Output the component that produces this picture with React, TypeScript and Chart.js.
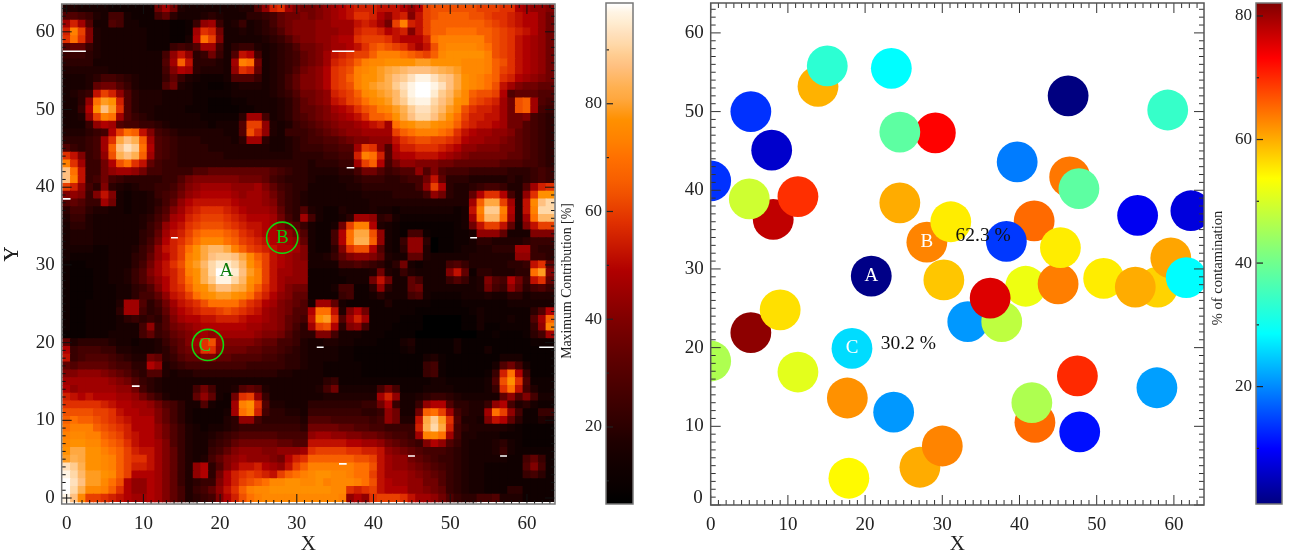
import React, { useEffect, useRef } from "react";
import { Chart, registerables } from "chart.js";

Chart.register(...registerables);

const FONT = '"Liberation Serif"';

// Heat map cells, one character per cell (index into heatLevels), top row (Y=63) first.
const heatRows = [
  "44333322 2222ada4 33333334 48cghdba abcdefgg gfffecei jjjjjjii ihhedccb",
  "88764377 32227953 33454333 55679aab abcdefhh gecfgbfi jkkkkjji hhgfeeca",
  "dgd83387 33222211 26cd6346 34579abb bccdddfg fdaimgfi kkkkkkkj ihgfeeca",
  "gmib4333 33322211 2dhga334 34568abb bcccddgh hgefgbfi kkllllkk jihgfeca",
  "hlhb4333 33322211 3elib333 334568ab bccdeehi iihfeeeg lmmmmmmk jihfedca",
  "89964333 33322267 68dd7356 6434568a abcddefh jkjihfdf jmnnnnml jihfedca",
  "66654333 333337cf c56a638f e7345679 abdfghii kmmmlkji knooooom jihfedca",
  "55553333 333338dk f55543dm la345679 abdghikm nnoooopp oooonnnm kjhfedca",
  "44444433 333337be d54443ch g934568a bcehijmn opqrsttt srqpnnnm kihfedca",
  "33345776 54333696 43222388 8634579b bcehikmo oprtuwyy wutqonml khgedcba",
  "33349aa8 643338a4 32211234 4434579b bcehijmo pqruwyzz ywtqonml jfdbaa99",
  "3456figc 85444333 32222233 3334568a abcghikn opqsvyzz xuspnkjj ie899988",
  "335clpog 85444333 32211122 33334579 abcfgijl nopsuxyy vtronjih gdajkd87",
  "336eotph 85443333 22211112 23334579 9abdefhj kmnpruww uspnjhgg fdajkd76",
  "334cimld 86543333 33222225 dd734578 9abcdefh kkloqtvv tqoliggf fdaab765",
  "3336ced8 77665433 33323338 iic43467 89abccde fgdlnopp onmkhgff edaa8765",
  "444567ei lkfb7654 44444338 jgc43666 789abccd dddiklmm mlkhfedd ccb98765",
  "55567dhq trkd8765 55444435 dd533456 77889abb cccfhijj iihgeddc cba98765",
  "86567dkt wule8765 55544444 44433456 667788di hc8egghh hgfeccbb baa98765",
  "hfb67cjr trkd8765 55555444 44444455 556677gm lg8deeff fedcbaaa aa998765",
  "mhd66aej lhf97665 55555555 55555555 455566di ke7accbb baa99999 98887765",
  "tlf66acd dca77666 68899999 99987655 4444557a a86788c8 b8777666 66555676",
  "tmf67a76 55555668 abbbbbba aa976555 43334456 6655677a f9555444 44545676",
  "igc75b54 34556679 bcddddcc cdb97655 33333445 5555557c ie544567 76448dgh",
  "bcb6bfb3 2334678a cdeeeedc ddca8654 33333334 44455557 ca5449eh he74choo",
  "89866da3 2334579c efffffed ddcb8654 33333333 44444444 44444dkq qid4fntv",
  "57754433 233468bd fghhhgfe dddc9658 43224333 43323333 33323fmu ume4fmvv",
  "46643333 334579de ghiiihgf eeeda75d 732235dd c5632222 22223dls sld4dlss",
  "35543333 33468cef hijjjihg ffedb986 3223aimm e4321111 11123afi if93bfii",
  "34443333 33569dfg iklllkjh gfeedca8 3227elqq jc321772 111223cc c9333bbb",
  "34443333 3357aegh jlnnnlki hgfeedc9 3227elrr kc326cc5 01122355 44445666",
  "33332233 3468cfgi loqssqmk ihgfeedb 3225bhjj e8325cc4 01123344 555dd655",
  "32222233 3569cegi moqtuutq nkifedcb 33469bcc b9433994 33333444 444cc665",
  "21122233 357adfhj npsvxxvs olifedcc 33337787 6535a323 33786444 44556fh9",
  "21112233 468bdfgi morvzzxt pmifddcc 22223333 4a436433 33bf9255 44455lpb",
  "21112233 468acegi loruyyvs omifdccc 22222333 afa33973 3368634b 87ea6fh9",
  "21112223 3568begh knoqttrq nkhfdbaa 22237722 5c5339a3 3333334a 76c95786",
  "21112223 35779cfg ilnoppon ligecb99 22226722 35333783 22223334 33553444",
  "21122224 dd857adf ghjllllj hgedba98 3dd93222 22422222 11112222 22333333",
  "21122225 dd7569ce fghhijih gfdcba88 ellf4bea 22222211 11111232 2222258e",
  "21122223 565658bd eeffgggf eedcb987 foph8dgd 22221110 00001132 223228dk",
  "21122223 337c68ab cdeeeeee ddccb975 dije5bc7 22211110 00001131 122226cm",
  "11122233 3379679a bcdcdddd dcbba865 5bb73332 22111100 00000011 2111257d",
  "94555543 32334689 bdhjdbbb ba997764 33443322 21113411 11131111 11111222",
  "e6777664 43334579 achhcaaa 99887654 33332211 11112311 11131113 11111111",
  "f6788876 544a9568 99bb9988 88776554 33332211 11111113 42111111 13331111",
  "98999987 755ec456 77777777 66666554 33222221 11111116 72111111 38a73111",
  "bbcccba9 86588434 45555555 55554433 33222221 11111116 72111112 6gle6111",
  "ddddddcb a8654333 33333333 33333333 33562222 22222222 33222223 8joh8222",
  "ecdddddc ca754333 37a73348 98433333 347a3333 37a72223 33322223 6hlf7422",
  "gfefeeed dca86433 39c932ah ic633333 33444444 4dgc3345 66543333 39c8b733",
  "hhhhhgfe eddca875 338322dm oh844333 55555556 6ae6336c ee855446 ce745322",
  "jjjjiihf eeddb975 322223dl ng755443 66666665 56ca33ak lid7544d lic72266",
  "klkkjihg feeeb975 3222245c c7555554 88877777 67ca44fq uph8443b fe952243",
  "lmmmkjih geeeca86 43233456 66666665 aaaa9988 776666gr vqg75444 44321111",
  "mnnmmkji gfeeca86 43345678 88887777 cddccbba a98776dm nld74433 32221111",
  "noonnlkj hfeedb86 4335679a aaaa9988 fffffeed dca9876b ec864333 45321111",
  "oqqoomlk igffdb96 433679bc ccbbcccd hiiiihhg gfcba987 77654333 46322222",
  "prqoonmk ihhfdb96 43479bcd cccbaegh kkkkkkjj ifdcca98 76654333 33227962",
  "wuroonmk iggfdb96 4ce58bdf fgedcfik mmmmmmll jfdccba9 87654332 22228b72",
  "yvspponk ieeedb96 4ce5aegh ihgfiklm noonnmll ifdddcba 98654332 22226752",
  "zwtppnlj eccedb96 4566begi jklnnoon nomnnnml jfeddcca a8654332 22222222",
  "zvrnnmkh eccedb97 4679cfhk mnnooooo ooonnhgh ifeeeccb a9654332 22552222",
  "ytniihgf eddedb97 4567begj lmnnnnnn nnnnmcec hiiihfdd ca865577 84442222",
];
const heatCodes = "0123456789abcdefghijklmnopqrstuvwxyz";
const heatLevels = [6, 9, 12, 15, 17.5, 20, 23, 26, 29, 33, 36.5, 40, 43, 46, 49, 52, 55, 58, 60.5, 63, 66, 70, 73, 75, 77, 79, 81, 83, 85, 87, 89, 91, 93, 95, 97, 98.5];
const heatColors = ["#000000", "#0a0000", "#100000", "#180000", "#200000", "#2c0000", "#380000", "#440000", "#500000", "#600000", "#700000", "#800000", "#900000", "#a00000", "#b00000", "#c01000", "#d02000", "#e03000", "#e84000", "#f05000", "#f86000", "#ff7000", "#ff8000", "#ff8800", "#ff9000", "#ff9c20", "#ffa840", "#ffb050", "#ffb868", "#ffc080", "#ffcc90", "#ffd8a8", "#ffe0bc", "#ffecd0", "#fff4e4", "#ffffff"];

// Short white marks on the heat map: x from, x to, y
const whiteMarks = [
  [-0.5, 2.5, 57.5], [34.6, 37.5, 57.5], [36.5, 37.5, 42.5], [-0.5, 0.5, 38.5],
  [13.6, 14.5, 33.5], [52.6, 53.5, 33.5], [32.6, 33.5, 19.4], [61.6, 63.5, 19.4],
  [8.5, 9.5, 14.4], [44.5, 45.4, 5.4], [56.5, 57.4, 5.4], [35.5, 36.5, 4.4],
  [5.6, 10.4, -0.6], [17, 36.5, -0.6], [40, 44.4, -0.6], [53.5, 63.5, -0.6],
];
const ringPoints = [{ x: 28.1, y: 33.5 }, { x: 18.4, y: 19.7 }];
const heatLetters = [
  { x: 20.8, y: 29.2, text: "A", color: "#0a7a0a" },
  { x: 28.1, y: 33.5, text: "B", color: "#10c810" },
  { x: 18.0, y: 19.6, text: "C", color: "#20e020" },
];

// Contamination scatter, drawn back to front: x, y, % of contamination
const spotX = [13.9, 15.1, 23.4, 5.2, 7.9, 0, 8.1, 5.0, 11.3, 29.1, 24.5, 46.3, 59.2, 39.7, 46.5, 47.7, 24.5, 28.0, 31.1, 41.9, 38.3, 40.8, 45.0, 45.3, 20.8, 55.3, 62.2, 50.9, 57.9, 55.0, 59.6, 61.6, 30.2, 33.3, 37.7, 36.2, 5.2, 9.0, 18.3, 0, 11.3, 17.7, 23.7, 47.5, 57.8, 42.0, 41.6, 47.8, 27.1, 30.0, 17.9];
const spotY = [53.2, 55.8, 55.5, 50.0, 45.1, 41.2, 36.3, 38.9, 39.2, 47.3, 47.4, 52.0, 50.2, 43.6, 41.7, 40.2, 38.4, 33.4, 36.0, 36.1, 33.5, 27.8, 28.1, 32.7, 29.1, 36.8, 37.4, 28.8, 27.7, 27.7, 31.4, 28.9, 28.6, 23.3, 23.3, 26.3, 21.9, 24.8, 19.9, 18.3, 16.9, 13.6, 11.8, 16.4, 14.9, 10.5, 13.0, 9.3, 4.8, 7.5, 3.4];
const spotValue = [59.5, 33, 28.5, 13.5, 6.3, 13.5, 77.5, 49, 69.5, 73, 38, 1, 34, 19, 64, 38, 60, 63, 55, 65, 14, 52, 63.5, 55, 1.5, 9, 7.5, 55, 57, 60, 60.5, 28.5, 58, 21, 47.5, 75.5, 81, 56, 26, 46, 51, 62, 21, 70, 21.5, 65, 46, 11, 60, 63, 54];
const spotLabels = [
  { x: 20.8, y: 29.1, text: "A", color: "#ffffff", size: 19 },
  { x: 28.0, y: 33.4, text: "B", color: "#ffffff", size: 19 },
  { x: 18.3, y: 19.9, text: "C", color: "#ffffff", size: 19 },
  { x: 35.3, y: 34.2, text: "62.3 %", color: "#111111", size: 19.5 },
  { x: 25.6, y: 20.5, text: "30.2 %", color: "#111111", size: 19.5 },
];
const jetStops = [[0, 0, 0, 128], [0.11, 0, 0, 255], [0.34, 0, 255, 255], [0.5, 127, 255, 127], [0.65, 255, 255, 0], [0.89, 255, 0, 0], [1, 128, 0, 0]];
const heatRange = [5.7, 98.7];
const jetRange = [1, 82.1];

const jet = (v: number) => {
  const t = Math.min(1, Math.max(0, (v - 1) / 81));
  for (let i = 1; i < jetStops.length; i++) {
    const a = jetStops[i - 1], b = jetStops[i];
    if (t <= b[0]) {
      const f = (t - a[0]) / (b[0] - a[0]);
      return `rgb(${[1, 2, 3].map((k) => Math.round(a[k] + (b[k] - a[k]) * f)).join(",")})`;
    }
  }
  return "rgb(128,0,0)";
};

const tickFont = { family: FONT, size: 19 };
const barFont = { family: FONT, size: 17 };

const zeroPad = (s: any) => { s.paddingTop = 0; s.paddingBottom = 0; s.paddingLeft = 0; s.paddingRight = 0; };

const frame = (o: { color: string; tick: string; major: number; minor: number; zeroLabel?: boolean; lineWidth: number }) => ({
  id: "frame",
  afterDraw(chart: any) {
    const { ctx, chartArea: a, scales } = chart;
    ctx.save();
    ctx.strokeStyle = o.tick;
    ctx.lineWidth = 1;
    const lines = (s: any, vertical: boolean) => {
      for (let v = Math.ceil(s.min); v <= s.max; v++) {
        const p = s.getPixelForValue(v);
        const len = v % 10 === 0 ? o.major : o.minor;
        ctx.beginPath();
        if (vertical) {
          ctx.moveTo(p, a.bottom); ctx.lineTo(p, a.bottom - len);
          ctx.moveTo(p, a.top); ctx.lineTo(p, a.top + len);
        } else {
          ctx.moveTo(a.left, p); ctx.lineTo(a.left + len, p);
          ctx.moveTo(a.right, p); ctx.lineTo(a.right - len, p);
        }
        ctx.stroke();
      }
    };
    lines(scales.x, true);
    lines(scales.y, false);
    ctx.strokeStyle = o.color;
    ctx.lineWidth = o.lineWidth;
    ctx.strokeRect(a.left, a.top, a.right - a.left, a.bottom - a.top);
    if (o.zeroLabel) {
      ctx.fillStyle = "#222";
      ctx.font = `19px ${FONT}`;
      ctx.textAlign = "right";
      ctx.textBaseline = "middle";
      ctx.fillText("0", a.left - 8, a.bottom - 7);
    }
    ctx.restore();
  },
});

const letters = (items: any[], defaultSize: number) => ({
  id: "letters",
  afterDatasetsDraw(chart: any) {
    const { ctx, scales } = chart;
    ctx.save();
    ctx.textAlign = "center";
    ctx.textBaseline = "middle";
    items.forEach((t) => {
      ctx.font = `${t.size || defaultSize}px ${FONT}`;
      ctx.fillStyle = t.color;
      ctx.fillText(t.text, scales.x.getPixelForValue(t.x), scales.y.getPixelForValue(t.y));
    });
    ctx.restore();
  },
});

const barFrame = (title: string, titleX: number, titleY: number, size: number) => ({
  id: "barFrame",
  afterDraw(chart: any) {
    const { ctx, chartArea: a, scales } = chart;
    const s = scales.y;
    ctx.save();
    ctx.strokeStyle = "#222";
    ctx.lineWidth = 1.2;
    for (let v = 10; v <= s.max; v += 10) {
      const p = s.getPixelForValue(v);
      if (v < s.min) continue;
      ctx.beginPath();
      ctx.moveTo(a.left, p);
      ctx.lineTo(a.left + (v % 20 === 0 ? 7 : 3), p);
      ctx.stroke();
    }
    ctx.strokeStyle = "#777";
    ctx.lineWidth = 1.5;
    ctx.strokeRect(a.left, a.top, a.right - a.left, a.bottom - a.top);
    ctx.translate(titleX, titleY);
    ctx.rotate(-Math.PI / 2);
    ctx.fillStyle = "#222";
    ctx.font = `${size}px ${FONT}`;
    ctx.textAlign = "center";
    ctx.textBaseline = "middle";
    ctx.fillText(title, 0, 0);
    ctx.restore();
  },
});

const area = (left: number, top: number, right: number, bottom: number) => ({
  padding: { left: 0, top, right: 1297 - right, bottom: 0 },
  axisWidth: left,
  axisHeight: 557 - bottom,
});

const plotAxes = (box: any, xr: number[], yr: number[], yZeroBlank: boolean, xTitleGap: number) => ({
  x: {
    type: "linear", min: xr[0], max: xr[1],
    grid: { display: false, drawTicks: false }, border: { display: false },
    ticks: { stepSize: 10, includeBounds: false, font: tickFont, color: "#222", maxRotation: 0, autoSkip: false, padding: 9 },
    title: { display: true, text: "X", font: { family: FONT, size: 21 }, color: "#222", padding: xTitleGap },
    afterFit: (s: any) => { s.height = box.axisHeight; zeroPad(s); },
  },
  y: {
    type: "linear", min: yr[0], max: yr[1],
    grid: { display: false, drawTicks: false }, border: { display: false },
    ticks: {
      stepSize: 10, includeBounds: false, font: tickFont, color: "#222", autoSkip: false, padding: 7,
      callback: (v: number) => (yZeroBlank && v === 0 ? "" : String(v)),
    },
    title: { display: true, text: "Y", font: { family: FONT, size: 21 }, color: "#222", padding: 0 },
    afterFit: (s: any) => { s.width = box.axisWidth; zeroPad(s); },
  },
});

const base = (box: any, scales: any) => ({
  responsive: false,
  animation: false as const,
  devicePixelRatio: 1,
  events: [] as string[],
  layout: { padding: box.padding, autoPadding: false },
  plugins: { legend: { display: false }, tooltip: { enabled: false }, title: { display: false } },
  scales,
});

export default function App() {
  const heatRef = useRef<HTMLCanvasElement>(null);
  const heatBarRef = useRef<HTMLCanvasElement>(null);
  const spotRef = useRef<HTMLCanvasElement>(null);
  const spotBarRef = useRef<HTMLCanvasElement>(null);

  useEffect(() => {
    const cells: { x: number; y: number }[] = [];
    const cellColors: string[] = [];
    heatRows.forEach((row, i) => {
      row.replace(/ /g, "").split("").forEach((ch, col) => {
        const idx = heatCodes.indexOf(ch);
        cells.push({ x: col, y: 63 - i });
        cellColors.push(heatColors[idx]);
      });
    });

    const heatBox = area(61.7, 4, 555, 504);
    const heat = new Chart(heatRef.current!, {
      type: "scatter",
      data: {
        datasets: [
          ...whiteMarks.map((m) => ({
            data: [{ x: m[0], y: m[2] }, { x: m[1], y: m[2] }],
            showLine: true, pointRadius: 0, borderColor: "#ffffff", borderWidth: 1.6, clip: 0, order: 1,
          })),
          {
            data: ringPoints, pointRadius: 15.6, pointBackgroundColor: "rgba(0,0,0,0)",
            pointBorderColor: "#10d810", pointBorderWidth: 1.6, clip: 0, order: 1,
          },
          {
            data: cells, pointStyle: "rect", pointRadius: 6.1, pointBorderWidth: 0,
            pointBackgroundColor: cellColors, clip: 0, order: 2,
          },
        ] as any,
      },
      options: base(heatBox, plotAxes(heatBox, [-0.65, 63.66], [-0.77, 63.58], false, 0)) as any,
      plugins: [letters(heatLetters, 19), frame({ color: "#777", tick: "#111", major: 10, minor: 4, lineWidth: 1.5 })],
    });

    const gradient = (chart: any, stops: [number, string][]) => {
      const s = chart.scales.y;
      if (!chart.chartArea || !s) return "#000";
      const g = chart.ctx.createLinearGradient(0, s.getPixelForValue(s.min), 0, s.getPixelForValue(s.max));
      stops.forEach(([p, c]) => g.addColorStop(p, c));
      return g;
    };
    const barChart = (canvas: HTMLCanvasElement, box: any, range: number[], stops: [number, string][], plugin: any) =>
      new Chart(canvas, {
        type: "bar",
        data: {
          labels: ["range"],
          datasets: [{
            data: [[range[0], range[1]]] as any,
            barPercentage: 1, categoryPercentage: 1, borderWidth: 0,
            backgroundColor: (c: any) => gradient(c.chart, stops),
          }],
        },
        options: base(box, {
          x: { display: false },
          y: {
            type: "linear", min: range[0], max: range[1],
            grid: { display: false, drawTicks: false }, border: { display: false },
            ticks: { stepSize: 20, includeBounds: false, font: barFont, color: "#222", autoSkip: false, padding: 4 },
            afterFit: (s: any) => { s.width = box.axisWidth; zeroPad(s); },
          },
        }) as any,
        plugins: [plugin],
      });

    const heatStops = heatLevels.map((v, i) => [
      Math.min(1, Math.max(0, (v - heatRange[0]) / (heatRange[1] - heatRange[0]))), heatColors[i],
    ]) as [number, string][];
    const heatBarBox = { ...area(606, 3, 633, 504) };
    heatBarBox.padding = { ...heatBarBox.padding, bottom: 557 - 504 };
    const heatBar = barChart(heatBarRef.current!, heatBarBox, heatRange, heatStops,
      barFrame("Maximum Contribution [%]", 567, 281, 13.8));

    const spotBox = area(710.7, 3, 1204, 505);
    const spots = new Chart(spotRef.current!, {
      type: "scatter",
      data: {
        datasets: [{
          data: spotX.map((x, i) => ({ x, y: spotY[i] })),
          pointRadius: 20.4, pointBorderWidth: 0,
          pointBackgroundColor: spotValue.map(jet), clip: 0,
        }] as any,
      },
      options: base(spotBox, plotAxes(spotBox, [0, 63.9], [0, 63.8], true, 0)) as any,
      plugins: [letters(spotLabels, 19), frame({ color: "#555", tick: "#333", major: 10, minor: 5, zeroLabel: true, lineWidth: 1.5 })],
    });

    const jetTicks = [0, 0.11, 0.34, 0.5, 0.65, 0.89, 1];
    const jetBarStops = jetTicks.map((t) => [t, jet(1 + t * 81)]) as [number, string][];
    const spotBarBox = { ...area(1256, 3, 1282, 504) };
    spotBarBox.padding = { ...spotBarBox.padding, bottom: 557 - 504 };
    const spotBar = barChart(spotBarRef.current!, spotBarBox, jetRange, jetBarStops,
      barFrame("% of contamination", 1218, 268, 14.5));

    return () => { heat.destroy(); heatBar.destroy(); spots.destroy(); spotBar.destroy(); };
  }, []);

  const style: React.CSSProperties = { position: "absolute", left: 0, top: 0 };
  return (
    <div style={{ position: "fixed", left: 0, top: 0, width: 1297, height: 557, background: "#fff", overflow: "hidden" }}>
      <canvas ref={heatRef} width={1297} height={557} style={style} />
      <canvas ref={heatBarRef} width={1297} height={557} style={style} />
      <canvas ref={spotRef} width={1297} height={557} style={style} />
      <canvas ref={spotBarRef} width={1297} height={557} style={style} />
    </div>
  );
}
